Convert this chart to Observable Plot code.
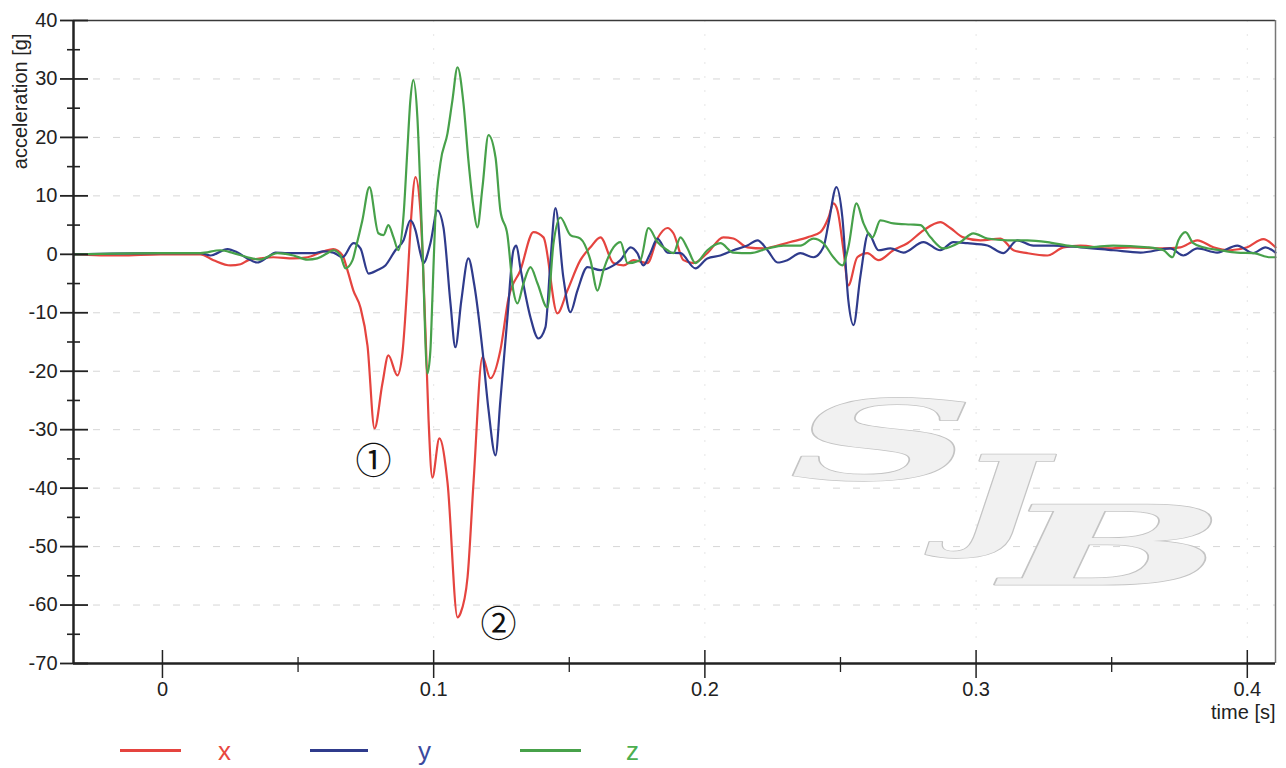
<!DOCTYPE html>
<html>
<head>
<meta charset="utf-8">
<script src="https://cdn.jsdelivr.net/npm/d3@7"></script>
<script src="https://cdn.jsdelivr.net/npm/@observablehq/plot@0.6"></script>
<style>
  body { margin: 0; background: #fff; font-family: "Liberation Sans", Arial, sans-serif; }
  #chart { position: relative; width: 1286px; }
  #legend { position: relative; width: 1286px; height: 43px; }
  .lg-line { position: absolute; height: 3px; top: 24px; }
  .lg-text { position: absolute; top: 13px; font-size: 26px; line-height: 26px; }
</style>
</head>
<body>
<div id="chart"></div>
<div id="legend"></div>
<script>
// ---- data (time in milliseconds, acceleration in g) ----
const seriesNames = ["x", "y", "z"];

const xTimeMs = [-32.8,-15.5,-0.7,14.0,18.8,25.1,28.8,31.7,36.1,40.9,48.3,53.5,59.4,63.0,66.4,68.2,70.4,73.0,75.6,78.2,81.1,83.3,86.6,88.5,90.3,91.4,93.3,95.1,97.0,98.1,99.5,102.1,105.1,108.8,109.9,112.5,114.7,118.0,120.9,124.6,127.6,132.0,136.8,140.5,145.6,149.3,154.1,157.8,161.5,166.3,170.0,173.7,178.8,182.5,186.2,188.4,192.1,195.8,200.9,206.8,210.5,215.7,221.6,226.8,231.5,237.8,242.6,245.6,247.4,248.9,251.1,252.9,256.2,259.9,264.0,269.5,274.7,280.6,286.8,290.5,295.3,301.6,309.0,313.8,318.9,326.3,332.2,338.5,348.4,356.9,369.1,375.3,381.6,387.5,393.8,400.0,405.9,410.4];
const xAccel = [0,-0.2,0,0,-1.0,-1.9,-1.7,-1.0,-0.7,-0.5,-0.7,-0.5,0.5,0.9,-0.2,-2.7,-6.2,-9.1,-15.6,-29.8,-22.1,-17.3,-20.7,-16.8,-5.0,4.1,13.2,7.5,-13.5,-28.1,-38.2,-31.5,-39.0,-62.1,-61.4,-55.2,-39.0,-17.6,-21.2,-16.4,-7.5,-2.7,3.8,2.9,-10.1,-6.2,-1.0,1.2,2.9,-1.5,-1.9,-1.0,-1.5,2.7,4.5,3.6,-1.0,-1.5,0.2,2.9,2.7,1.2,1.0,1.5,2.1,2.9,3.8,6.3,8.7,7.5,0.7,-5.3,-0.5,0.2,-1.0,0.7,1.9,4.1,5.5,4.5,2.9,2.4,2.7,0.7,0.2,-0.2,1.2,1.5,1.0,1.2,1.0,1.2,2.4,1.2,0.7,1.2,2.6,1.2];

const yTimeMs = [-32.8,-0.7,14.0,17.7,24.0,27.7,31.3,35.0,38.7,41.7,46.1,50.9,55.7,59.4,63.0,66.4,70.4,73.0,76.0,79.3,82.2,85.9,88.9,91.4,93.3,95.1,96.2,98.8,101.4,103.6,106.2,108.0,110.2,112.8,115.0,118.0,120.2,122.8,124.6,127.2,129.4,130.5,132.0,135.7,138.6,141.2,143.1,144.9,147.8,150.4,153.0,156.7,161.5,166.3,168.9,172.6,175.1,177.3,179.9,182.5,186.2,191.0,196.5,200.9,205.7,210.5,215.7,219.4,223.1,226.8,230.4,235.2,240.0,243.7,245.6,248.5,250.7,252.9,254.8,257.3,260.3,264.0,268.4,273.2,280.6,286.8,291.6,296.8,304.2,310.1,315.2,321.1,328.5,338.5,350.6,360.6,371.6,376.4,381.6,388.9,396.3,402.2,406.7,410.4];
const yAccel = [0,0.2,0.2,-0.2,0.9,0.3,-0.7,-1.4,-0.5,0.3,0.2,0.2,0.2,0.5,0.3,-0.5,1.9,1.0,-3.3,-2.7,-1.9,0.7,2.4,5.8,4.1,0.2,-1.5,1.9,7.5,4.6,-8.4,-15.9,-7.9,-0.7,-5.3,-16.4,-26.5,-34.4,-25.0,-10.8,0.7,1.5,-2.4,-10.8,-14.4,-12.5,-1.0,7.9,-3.9,-9.9,-6.2,-2.2,-2.7,-1.9,-1.0,1.2,0.2,-1.9,0.2,2.7,0.3,0.2,-2.4,-0.7,-0.2,0.7,1.5,2.4,0.7,-1.4,-1.0,0.2,-0.5,1.2,5.3,11.5,6.3,-7.9,-12.1,-3.9,3.6,0.7,1.0,0.3,2.1,0.7,2.1,1.9,1.5,0.2,2.4,1.5,1.5,1.2,0.7,0.3,1.0,-0.2,1.0,0.3,1.5,0.2,1.2,0.3];

const zTimeMs = [-32.8,-0.7,14.0,21.4,26.2,31.3,36.1,39.8,42.4,48.3,53.5,57.1,60.8,63.0,65.6,67.5,70.1,71.5,73.7,76.3,79.6,81.5,83.3,85.2,87.0,88.9,90.3,91.4,92.5,94.0,95.1,95.9,97.7,98.8,99.5,100.6,102.5,105.1,106.9,108.8,111.0,112.8,114.7,116.1,118.0,120.2,122.8,124.6,127.2,129.4,130.9,133.1,135.7,138.3,141.9,144.2,146.7,150.4,154.1,157.8,160.4,162.6,166.3,168.9,171.5,176.2,179.2,182.5,186.2,188.4,191.0,193.6,196.5,200.9,205.7,210.5,216.8,223.1,229.0,235.2,240.0,243.7,247.4,250.7,252.9,255.9,258.5,261.8,264.7,269.5,275.8,279.5,283.2,288.0,294.2,299.0,304.2,311.6,318.9,326.3,333.7,341.0,350.6,363.2,369.1,372.4,374.6,377.2,380.1,383.8,390.1,396.3,402.2,408.5,410.4];
const zAccel = [0,0.2,0.2,0.7,0.2,-0.5,-0.9,-0.2,0.2,-0.2,-0.9,-0.7,0.2,0.7,-0.2,-2.4,-1.0,1.5,5.8,11.5,3.6,3.3,5.0,2.9,0.7,6.7,17.8,26.3,29.8,23.4,11.0,0.7,-20.4,-16.4,-7.9,6.3,15.6,20.7,26.3,32.0,25.8,16.1,8.0,4.6,11.5,20.4,16.6,7.5,3.3,-6.3,-8.4,-5.0,-2.2,-5.0,-9.1,1.9,6.3,3.3,2.7,-1.0,-6.2,-2.7,1.2,2.1,-1.5,-1.0,4.5,2.1,0.7,0.2,2.9,1.0,-1.5,0.7,1.9,0.3,0.2,1.0,1.5,1.5,2.7,1.9,-0.5,-1.9,1.2,8.7,5.3,2.9,5.8,5.3,5.1,5.0,2.9,1.0,2.1,3.6,2.7,2.4,2.4,2.1,1.5,1.2,1.5,1.2,0.7,-0.5,2.4,3.8,1.9,1.2,0.7,0.3,0.2,-0.5,-0.5];

const yMajorTicks = [40,30,20,10,0,-10,-20,-30,-40,-50,-60,-70];
const yMinorTicks = [35,25,15,5,-5,-15,-25,-35,-45,-55,-65];
const xMajorTicks = [0,0.1,0.2,0.3,0.4];
const xMajorLabels = ["0","0.1","0.2","0.3","0.4"];
const xMinorTicks = [0.05,0.15,0.25,0.35];
const gridYValues = [30,20,10,-10,-20,-30,-40,-50,-60];
const gridXValues = [0.1,0.2,0.3,0.4];

const annotationLabels = ["\u2460","\u2461"];
const annotationTimes = [0.0778, 0.1239];
const annotationAccel = [-35.6, -63.5];

const watermarkLetters = ["S","J","B"];
const watermarkTimes = [0.2655, 0.309, 0.3507];
const watermarkAccel = [-32.5, -42.0, -50.5];

const xDomain = [-0.0328, 0.4104];
const yDomain = [-70, 40];

// ---- styling ----
const colors = {x: "#e5443f", y: "#2f3b8c", z: "#47a14a"};
const textColors = {x: "#e8473f", y: "#3b4a9e", z: "#4caf50"};

// ---- build table ----
function toRows(times, values, s) { return times.map((t, i) => ({t: t / 1000, v: values[i], s})); }
const rows = [
  ...toRows(xTimeMs, xAccel, "x"),
  ...toRows(yTimeMs, yAccel, "y"),
  ...toRows(zTimeMs, zAccel, "z")
];
const annotations = annotationLabels.map((label, i) => ({label, t: annotationTimes[i], v: annotationAccel[i]}));
const watermark = watermarkLetters.map((label, i) => ({label, t: watermarkTimes[i], v: watermarkAccel[i]}));

const plot = Plot.plot({
  width: 1286,
  height: 725,
  marginLeft: 73,
  marginRight: 11,
  marginTop: 20,
  marginBottom: 62,
  style: {fontFamily: '"Liberation Sans", Arial, sans-serif', fontSize: "20px", color: "#222", background: "transparent"},
  x: {domain: xDomain, label: null},
  y: {domain: yDomain, label: null},
  color: {domain: seriesNames, range: seriesNames.map(s => colors[s])},
  marks: [
    Plot.ruleY(gridYValues, {stroke: "#d6d6d6", strokeDasharray: "7 13", strokeWidth: 1}),
    Plot.ruleX(gridXValues, {stroke: "#e6e6e6", strokeDasharray: "2 12", strokeWidth: 1}),
    Plot.text(watermark, {x: "t", y: "v", text: "label", className: "wm",
      fontFamily: '"DejaVu Serif", serif', fontStyle: "italic", fontWeight: "bold",
      fontSize: 110, fill: "#f1f1f1", stroke: "#c4c4c4", strokeWidth: 1.5}),
    Plot.line(rows, {x: "t", y: "v", z: "s", stroke: "s", strokeWidth: 2.2, curve: "monotone-x"}),
    Plot.text(annotations, {x: "t", y: "v", text: "label",
      fontFamily: '"Noto Sans CJK JP", "DejaVu Sans", sans-serif', fontSize: 36, fill: "#111"}),
    Plot.ruleY([yDomain[1]], {stroke: "#3a3a3a", strokeWidth: 1.5}),
    Plot.ruleX([xDomain[1]], {stroke: "#777", strokeWidth: 1.5}),
    Plot.ruleX([xDomain[0]], {stroke: "#222", strokeWidth: 2.5}),
    Plot.ruleY([yDomain[0]], {stroke: "#222", strokeWidth: 2.5}),
    Plot.axisY(yMajorTicks, {anchor: "left", tickSize: 28, dx: 15, tickPadding: 3, strokeWidth: 1.8,
      fontSize: 20, tickFormat: d => String(d), label: null}),
    Plot.axisY(yMinorTicks, {anchor: "left", tickSize: 13, dx: 7, strokeWidth: 1.6, fill: "none", label: null}),
    Plot.axisX(xMajorTicks, {anchor: "bottom", tickSize: 28, dy: -13, tickPadding: 3, strokeWidth: 1.5,
      fontSize: 20, tickFormat: (d) => xMajorLabels[xMajorTicks.indexOf(d)], label: null}),
    Plot.axisX(xMinorTicks, {anchor: "bottom", tickSize: 15, dy: -6, strokeWidth: 1.3, fill: "none", label: null}),
    Plot.text(["time [s]"], {text: d => d, frameAnchor: "bottom-right", textAnchor: "end", lineAnchor: "bottom", dy: 55, fontSize: 20}),
    Plot.text(["acceleration [g]"], {text: d => d, frameAnchor: "top-left", rotate: -90, textAnchor: "end", dx: -61, dy: 13, fontSize: 20})
  ]
});
document.getElementById("chart").appendChild(plot);

// stretch the watermark glyphs (the logo is wide)
const wmWidths = [185, 90, 225];
document.querySelectorAll("#chart .wm text").forEach((el, i) => {
  el.setAttribute("textLength", wmWidths[i]);
  el.setAttribute("lengthAdjust", "spacingAndGlyphs");
});

// ---- legend ----
const legend = document.getElementById("legend");
const legendLines = {x: [120, 181], y: [310, 368], z: [520, 581]};
const legendTextLeft = {x: 218, y: 418, z: 626};
seriesNames.forEach(s => {
  const line = document.createElement("div");
  line.className = "lg-line";
  line.style.left = legendLines[s][0] + "px";
  line.style.width = (legendLines[s][1] - legendLines[s][0]) + "px";
  line.style.background = colors[s];
  legend.appendChild(line);
  const t = document.createElement("div");
  t.className = "lg-text";
  t.style.left = legendTextLeft[s] + "px";
  t.style.color = textColors[s];
  t.textContent = s;
  legend.appendChild(t);
});
</script>
</body>
</html>
